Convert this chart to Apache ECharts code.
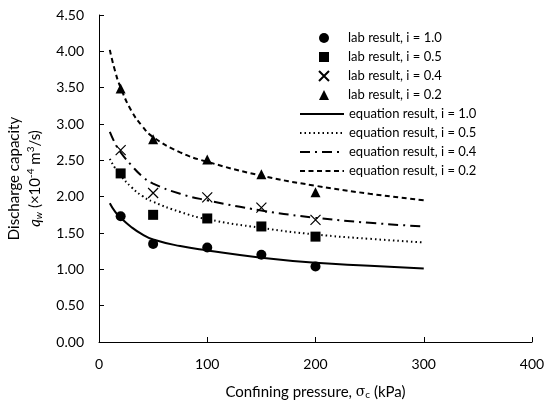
<!DOCTYPE html>
<html style="height: 100%">
<head>
    <meta charset="utf-8">
    <title>Discharge capacity vs confining pressure</title>
    <script type="text/javascript" src="https://cdn.jsdelivr.net/npm/echarts@6/dist/echarts.min.js"></script>
</head>
<body style="height: 100%; margin: 0">
    <div id="container" style="width: 549px; height: 402px"></div>
    <script type="text/javascript">
        // lab points (kPa)
        var labPressure = [20, 50, 100, 150, 200];
        var lab10 = [1.73, 1.35, 1.30, 1.20, 1.04];
        var lab05 = [2.32, 1.75, 1.70, 1.59, 1.45];
        var lab04 = [2.64, 2.05, 1.99, 1.85, 1.68];
        var lab02 = [3.49, 2.79, 2.51, 2.31, 2.06];

        // equation curves
        var eqPressure = [10, 15, 20, 30, 40, 50, 75, 100, 150, 200, 250, 300];
        var eq10 = [1.91, 1.79, 1.71, 1.58, 1.48, 1.41, 1.32, 1.26, 1.16, 1.09, 1.05, 1.01];
        var eq05 = [2.52, 2.39, 2.29, 2.13, 2.01, 1.93, 1.79, 1.69, 1.57, 1.48, 1.42, 1.37];
        var eq04 = [2.89, 2.73, 2.61, 2.43, 2.28, 2.18, 2.04, 1.95, 1.81, 1.71, 1.64, 1.59];
        var eq02 = [4.02, 3.72, 3.50, 3.18, 2.97, 2.82, 2.61, 2.48, 2.29, 2.15, 2.04, 1.95];

        var labNames = ['lab result, i = 1.0', 'lab result, i = 0.5', 'lab result, i = 0.4', 'lab result, i = 0.2'];
        var eqNames = ['equation result, i = 1.0', 'equation result, i = 0.5', 'equation result, i = 0.4', 'equation result, i = 0.2'];

        function pairs(xs, ys) {
            var out = [];
            for (var k = 0; k < xs.length; k++) out.push([xs[k], ys[k]]);
            return out;
        }

        var FONT = 'Lato';
        var crossPath = 'path://M0,0L10,10M10,0L0,10';

        var myChart = echarts.init(document.getElementById('container'));

        var option = {
            animation: false,
            textStyle: { fontFamily: FONT, color: '#000' },
            grid: { left: 99, right: 17, top: 15, bottom: 60, containLabel: false, outerBoundsMode: 'none' },
            legend: [{
                // markers
                data: labNames,
                orient: 'vertical',
                left: 313,
                top: 26,
                itemWidth: 10,
                itemHeight: 10,
                itemGap: 5,
                itemStyle: { opacity: 1 },
                textStyle: { fontFamily: FONT, fontSize: 13, color: '#000', lineHeight: 14, padding: [0, 0, 0, 14] }
            }, {
                // lines, no marker in the sample
                data: eqNames,
                orient: 'vertical',
                left: 294,
                top: 102,
                itemWidth: 44,
                itemHeight: 14,
                itemGap: 5,
                itemStyle: { opacity: 0 },
                textStyle: { fontFamily: FONT, fontSize: 13, color: '#000', lineHeight: 14 }
            }],
            xAxis: {
                type: 'value',
                min: 0,
                max: 400,
                interval: 100,
                name: 'Confining pressure, {s|σ}{sub|c} (kPa)',
                nameLocation: 'middle',
                nameGap: 42,
                nameTextStyle: {
                    fontFamily: FONT, fontSize: 15, color: '#000',
                    rich: {
                        s: { fontFamily: 'DejaVu Serif', fontSize: 14, color: '#000' },
                        sub: { fontFamily: FONT, fontSize: 10, color: '#000', verticalAlign: 'bottom', padding: [6, 0, 0, 0] }
                    }
                },
                axisLine: { lineStyle: { color: '#000', width: 1 } },
                axisTick: { inside: true, length: 5, lineStyle: { color: '#000' } },
                axisLabel: { margin: 15, fontFamily: FONT, fontSize: 14, color: '#000' },
                splitLine: { show: false }
            },
            yAxis: {
                type: 'value',
                min: 0,
                max: 4.5,
                interval: 0.5,
                name: '{a|Discharge capacity}\n{q|q}{sub|w}{a| (×10}{sup|-4}{a| m}{sup|3}{a|/s)}',
                nameLocation: 'middle',
                nameGap: 49,
                nameTextStyle: {
                    fontFamily: FONT, fontSize: 15, color: '#000', lineHeight: 21,
                    rich: {
                        a: { fontFamily: FONT, fontSize: 15, color: '#000', lineHeight: 21 },
                        q: { fontFamily: FONT, fontSize: 15, fontStyle: 'italic', color: '#000', lineHeight: 21 },
                        sub: { fontFamily: FONT, fontSize: 10, fontStyle: 'italic', color: '#000', lineHeight: 21, padding: [8, 0, 0, 0] },
                        sup: { fontFamily: FONT, fontSize: 10, color: '#000', lineHeight: 21, padding: [0, 0, 8, 0] }
                    }
                },
                axisLine: { show: true, lineStyle: { color: '#000', width: 1 } },
                axisTick: { show: true, inside: true, length: 5, lineStyle: { color: '#000' } },
                axisLabel: {
                    margin: 15, fontFamily: FONT, fontSize: 14, color: '#000',
                    formatter: function (v) { return v.toFixed(2); }
                },
                splitLine: { show: false }
            },
            series: [
                {
                    name: labNames[0], type: 'scatter', symbol: 'circle', symbolSize: 10,
                    itemStyle: { color: '#000', opacity: 1 }, data: pairs(labPressure, lab10), z: 5
                },
                {
                    name: labNames[1], type: 'scatter', symbol: 'rect', symbolSize: 10,
                    itemStyle: { color: '#000', opacity: 1 }, data: pairs(labPressure, lab05), z: 5
                },
                {
                    name: labNames[2], type: 'scatter', symbol: crossPath, symbolSize: 10,
                    itemStyle: { color: 'transparent', borderColor: '#000', borderWidth: 1.2, opacity: 1 },
                    data: pairs(labPressure, lab04), z: 5
                },
                {
                    name: labNames[3], type: 'scatter', symbol: 'triangle', symbolSize: 10,
                    itemStyle: { color: '#000', opacity: 1 }, data: pairs(labPressure, lab02), z: 5
                },
                {
                    name: eqNames[0], type: 'line', smooth: true, symbol: 'none',
                    itemStyle: { color: '#000' },
                    lineStyle: { color: '#000', width: 2, type: 'solid' },
                    data: pairs(eqPressure, eq10)
                },
                {
                    name: eqNames[1], type: 'line', smooth: true, symbol: 'none',
                    itemStyle: { color: '#000' },
                    lineStyle: { color: '#000', width: 2, type: [1.5, 3] },
                    data: pairs(eqPressure, eq05)
                },
                {
                    name: eqNames[2], type: 'line', smooth: true, symbol: 'none',
                    itemStyle: { color: '#000' },
                    lineStyle: { color: '#000', width: 2, type: [10, 5, 2, 5] },
                    data: pairs(eqPressure, eq04)
                },
                {
                    name: eqNames[3], type: 'line', smooth: true, symbol: 'none',
                    itemStyle: { color: '#000' },
                    lineStyle: { color: '#000', width: 2, type: [5, 3.5] },
                    data: pairs(eqPressure, eq02)
                }
            ]
        };
        myChart.setOption(option);
    </script>
</body>
</html>
